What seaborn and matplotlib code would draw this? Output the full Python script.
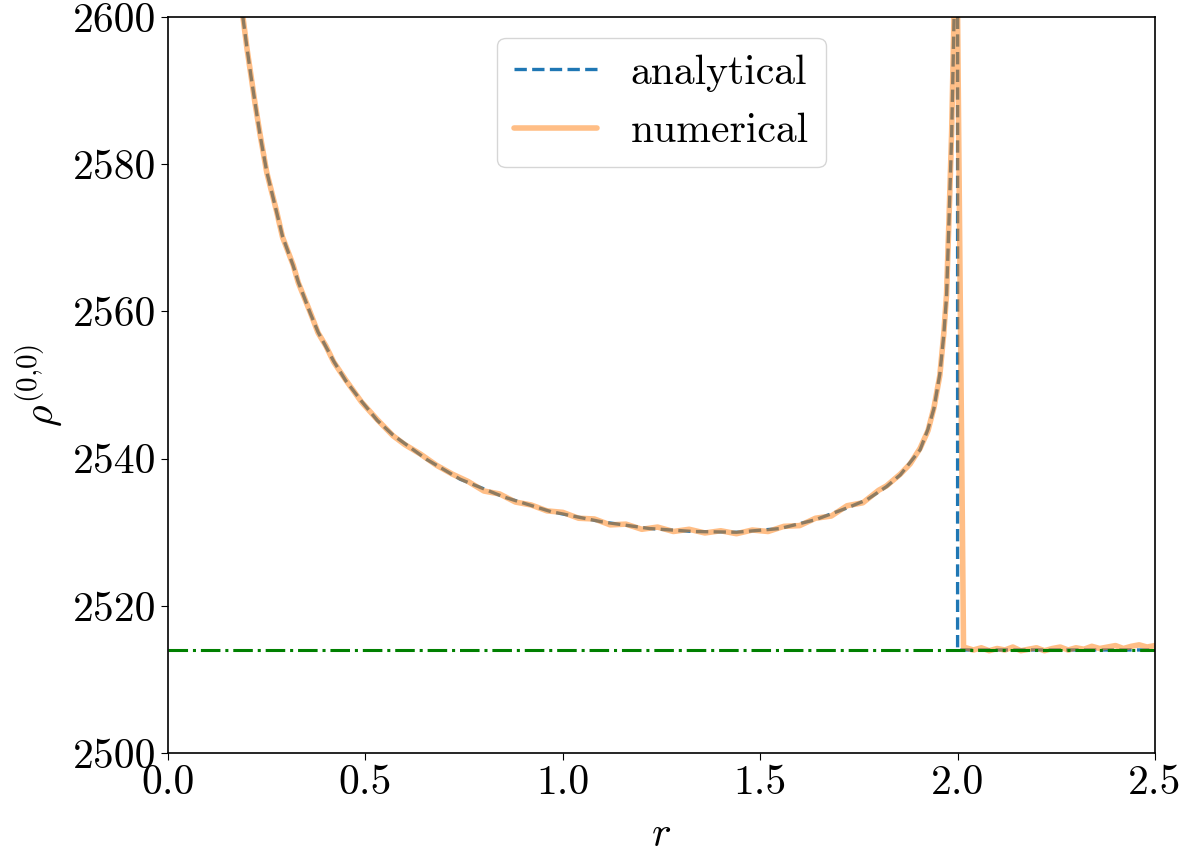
import numpy as np
import pandas as pd
import matplotlib
matplotlib.use("Agg")
import matplotlib.pyplot as plt
import seaborn as sns

# analytical profile
r_ana = [0.15, 0.19, 0.20, 0.21, 0.22, 0.233, 0.25, 0.275, 0.29, 0.317, 0.33,
         0.36, 0.38, 0.40, 0.42, 0.45, 0.49, 0.53, 0.57, 0.655, 0.74, 0.85,
         0.97, 1.10, 1.22, 1.33, 1.44, 1.55, 1.64, 1.72, 1.77, 1.82, 1.855,
         1.88, 1.905, 1.925, 1.94, 1.955, 1.965, 1.972, 1.978, 1.985, 1.991,
         1.996, 2.0, 2.0, 2.5]
rho_ana = [2625, 2599.8, 2595.8, 2592.0, 2588.5, 2584.0, 2579.0, 2573.5, 2570.2,
           2566.2, 2564.0, 2559.8, 2557.2, 2555.2, 2553.2, 2550.6, 2547.8, 2545.2,
           2543.2, 2539.9, 2537.2, 2534.8, 2532.8, 2531.4, 2530.5, 2530.1, 2530.0,
           2530.5, 2531.7, 2533.3, 2534.4, 2536.2, 2537.8, 2539.5, 2541.2, 2544.0,
           2546.8, 2551.5, 2556.8, 2562.0, 2572.0, 2584.0, 2600.0, 2620.0, 2640.0,
           2514.0, 2514.0]

# numerical profile (noisy)
r_num = [0.15, 0.19, 0.20, 0.21, 0.22, 0.233, 0.25, 0.275, 0.29, 0.317, 0.33,
         0.36, 0.38, 0.40, 0.42, 0.45, 0.49, 0.53, 0.57,
         0.60, 0.64, 0.68, 0.72, 0.76, 0.80, 0.84, 0.88, 0.92, 0.96, 1.00, 1.04,
         1.08, 1.12, 1.16, 1.20, 1.24, 1.28, 1.32, 1.36, 1.40, 1.44, 1.48, 1.52,
         1.56, 1.60, 1.64, 1.68, 1.72, 1.76, 1.80, 1.82, 1.855, 1.88, 1.905,
         1.925, 1.94, 1.955, 1.965, 1.972, 1.978, 1.985, 1.991, 1.995, 2.0,
         2.015, 2.04, 2.06, 2.08, 2.10, 2.12, 2.14, 2.16, 2.18, 2.20, 2.22, 2.24,
         2.26, 2.28, 2.30, 2.32, 2.34, 2.36, 2.38, 2.40, 2.42, 2.44, 2.46, 2.48, 2.5]
rho_num = [2625, 2599.9, 2595.7, 2592.1, 2588.4, 2584.1, 2578.9, 2573.6, 2570.1,
           2566.3, 2563.9, 2559.9, 2557.1, 2555.3, 2553.1, 2550.7, 2547.7, 2545.3,
           2543.1,
           2541.9, 2540.6, 2539.1, 2537.9, 2536.9, 2535.6, 2535.2, 2534.1, 2533.7,
           2532.9, 2532.7, 2531.9, 2531.8, 2531.0, 2531.1, 2530.4, 2530.7, 2530.1,
           2530.4, 2529.9, 2530.2, 2529.8, 2530.3, 2530.1, 2530.8, 2530.9, 2531.9,
           2532.2, 2533.6, 2534.0, 2535.7, 2536.3, 2537.9, 2539.3, 2541.4, 2543.8,
           2546.9, 2551.3, 2557.0, 2562.3, 2572.2, 2584.5, 2600.5, 2612.0, 2600.0,
           2514.4, 2514.0, 2514.3, 2513.9, 2514.2, 2514.0, 2514.4, 2513.9, 2514.1,
           2514.3, 2513.9, 2514.2, 2514.4, 2514.0, 2514.3, 2514.1, 2514.5, 2514.2,
           2514.4, 2514.6, 2514.2, 2514.5, 2514.7, 2514.4, 2514.6]

rho_bulk = 2514.0

sns.set_style("ticks")
plt.rcParams.update({
    "font.family": "serif",
    "font.serif": ["cmr10"],
    "mathtext.fontset": "cm",
    "axes.formatter.use_mathtext": True,
    "axes.edgecolor": "black",
    "axes.labelcolor": "black",
    "text.color": "black",
    "axes.linewidth": 1.2,
    "xtick.color": "black",
    "ytick.color": "black",
    "xtick.major.size": 5,
    "ytick.major.size": 5,
    "font.size": 30,
})

fig, ax = plt.subplots(figsize=(11.8, 8.56), dpi=100)
fig.subplots_adjust(left=0.1424, right=0.9788, bottom=0.1203, top=0.9801)

df_ana = pd.DataFrame({"r": r_ana, "rho": rho_ana})
df_num = pd.DataFrame({"r": r_num, "rho": rho_num})

sns.lineplot(data=df_ana, x="r", y="rho", ax=ax, estimator=None, sort=False,
             color="C0", linestyle="--", linewidth=2.4, label="analytical")
sns.lineplot(data=df_num, x="r", y="rho", ax=ax, estimator=None, sort=False,
             color="C1", alpha=0.5, linewidth=4, label="numerical")
ax.axhline(rho_bulk, color="green", linestyle="-.", linewidth=2.2)

ax.set_xlim(0, 2.5)
ax.set_ylim(2500, 2600)
ax.set_xticks([0.0, 0.5, 1.0, 1.5, 2.0, 2.5])
ax.set_xticklabels(["0.0", "0.5", "1.0", "1.5", "2.0", "2.5"])
ax.set_yticks([2500, 2520, 2540, 2560, 2580, 2600])
ax.set_yticklabels(["2500", "2520", "2540", "2560", "2580", "2600"])
ax.tick_params(labelsize=30, colors="black")
ax.set_xlabel(r"$r$", fontsize=30, labelpad=10)
ax.set_ylabel(r"$\rho^{(0{,}0)}$", fontsize=30, labelpad=6)
leg = ax.legend(loc="upper center", fontsize=30, frameon=True, handlelength=2)
for t in leg.get_texts():
    t.set_color("black")

fig.savefig("out.png", dpi=100)
